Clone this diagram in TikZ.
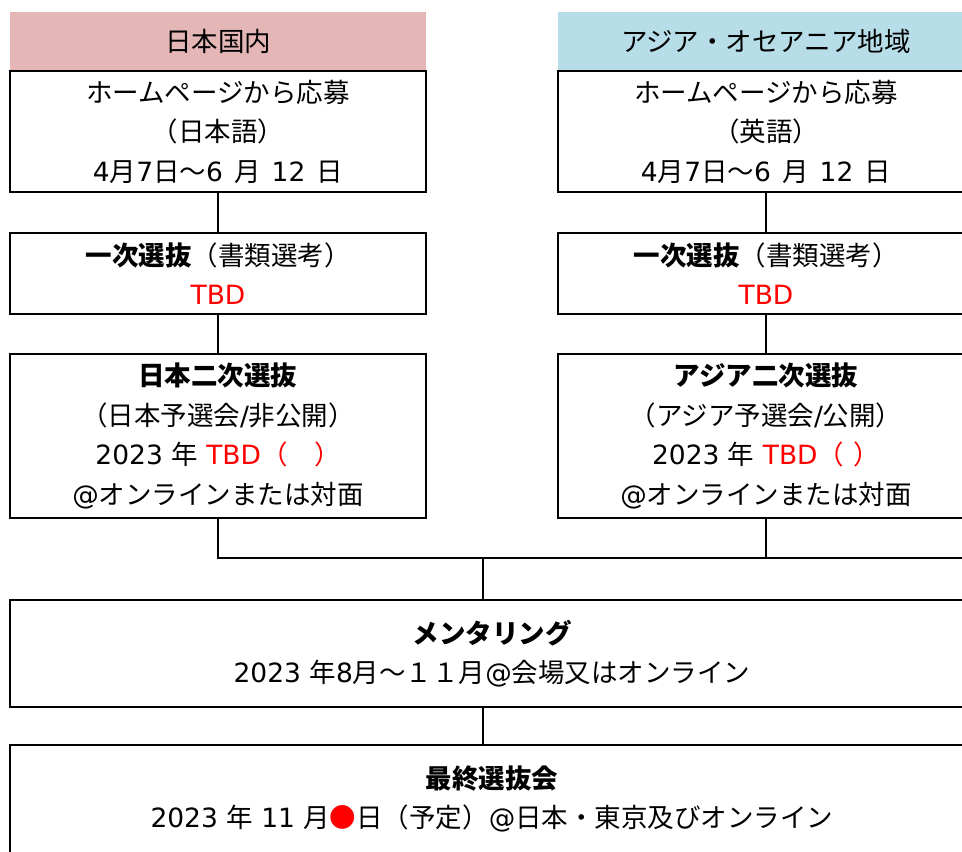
\documentclass[tikz,border=0pt]{standalone}
\usepackage{fontspec}
\setmainfont{Noto Sans CJK JP}
\newfontfamily\latfont{DejaVu Sans}
\newcommand\ltn[1]{{\latfont #1}}
\newcommand\wsp{\hspace{0.42em}}
\definecolor{hdrpink}{HTML}{E4B6B6}
\definecolor{hdrblue}{HTML}{B7DDE8}
\definecolor{tbdred}{HTML}{FF0000}
\begin{document}
\begin{tikzpicture}[x=1pt,y=-1pt,
  box/.style={draw, line width=2pt, inner sep=0pt, align=center, minimum width=416pt,
    font=\fontsize{26.5}{39.5}\selectfont},
  widebox/.style={box, minimum width=964pt},
  hdr/.style={inner sep=0pt, align=center, minimum width=416pt, minimum height=59pt,
    font=\fontsize{26.5}{39.5}\selectfont},
  conn/.style={line width=1.6pt}]
\useasboundingbox (0,0) rectangle (962,852);
\clip (0,0) rectangle (962,852);
% headers
\node[hdr, fill=hdrpink] (HL) at (218,41) {日本国内};
\node[hdr, fill=hdrblue] (HR) at (766,41) {アジア・オセアニア地域};
% first boxes
\node[box, minimum height=121pt] (L1) at (218,131.5) {ホームページから応募\\（日本語）\\\ltn{4}月\ltn{7}日～\ltn{6}\wsp 月\wsp\ltn{12}\wsp 日};
\node[box, minimum height=121pt] (R1) at (766,131.5) {ホームページから応募\\（英語）\\\ltn{4}月\ltn{7}日～\ltn{6}\wsp 月\wsp\ltn{12}\wsp 日};
% second boxes
\node[box, minimum height=81pt] (L2) at (218,273.5) {\textbf{一次選抜}（書類選考）\\\textcolor{tbdred}{\ltn{TBD}}};
\node[box, minimum height=81pt] (R2) at (766,273.5) {\textbf{一次選抜}（書類選考）\\\textcolor{tbdred}{\ltn{TBD}}};
% third boxes
\node[box, minimum height=164pt] (L3) at (218,436) {\textbf{日本二次選抜}\\（日本予選会\ltn{/}非公開）\\\ltn{2023 }年\ltn{ }\textcolor{tbdred}{\ltn{TBD}（　）}\\\ltn{@}オンラインまたは対面};
\node[box, minimum height=164pt] (R3) at (766,436) {\textbf{アジア二次選抜}\\（アジア予選会\ltn{/}公開）\\\ltn{2023 }年\ltn{ }\textcolor{tbdred}{\ltn{TBD}（\hspace{0.35em}）}\\\ltn{@}オンラインまたは対面};
% mentoring and final
\node[widebox, minimum height=107pt] (M) at (492,653.5) {\textbf{メンタリング}\\\ltn{2023 }年\ltn{8}月～１１月\ltn{@}会場又はオンライン};
\node[widebox, minimum height=108pt] (F) at (492,799) {\textbf{最終選抜会}\\\ltn{2023 }年\ltn{ 11 }月\textcolor{tbdred}{●}日（予定）\ltn{@}日本・東京及びオンライン};
% connectors
\draw[conn] (L1) -- (L2);
\draw[conn] (L2) -- (L3);
\draw[conn] (R1) -- (R2);
\draw[conn] (R2) -- (R3);
\coordinate (jL) at (218,558);
\coordinate (jR) at (974,558);
\coordinate (jM) at (483,558);
\draw[conn] (L3.south) -- (jL) -- (jR);
\draw[conn] (R3.south) -- (R3.south |- jL);
\draw[conn] (jM) -- (jM |- M.north);
\draw[conn] (jM |- M.south) -- (jM |- F.north);
\end{tikzpicture}
\end{document}
